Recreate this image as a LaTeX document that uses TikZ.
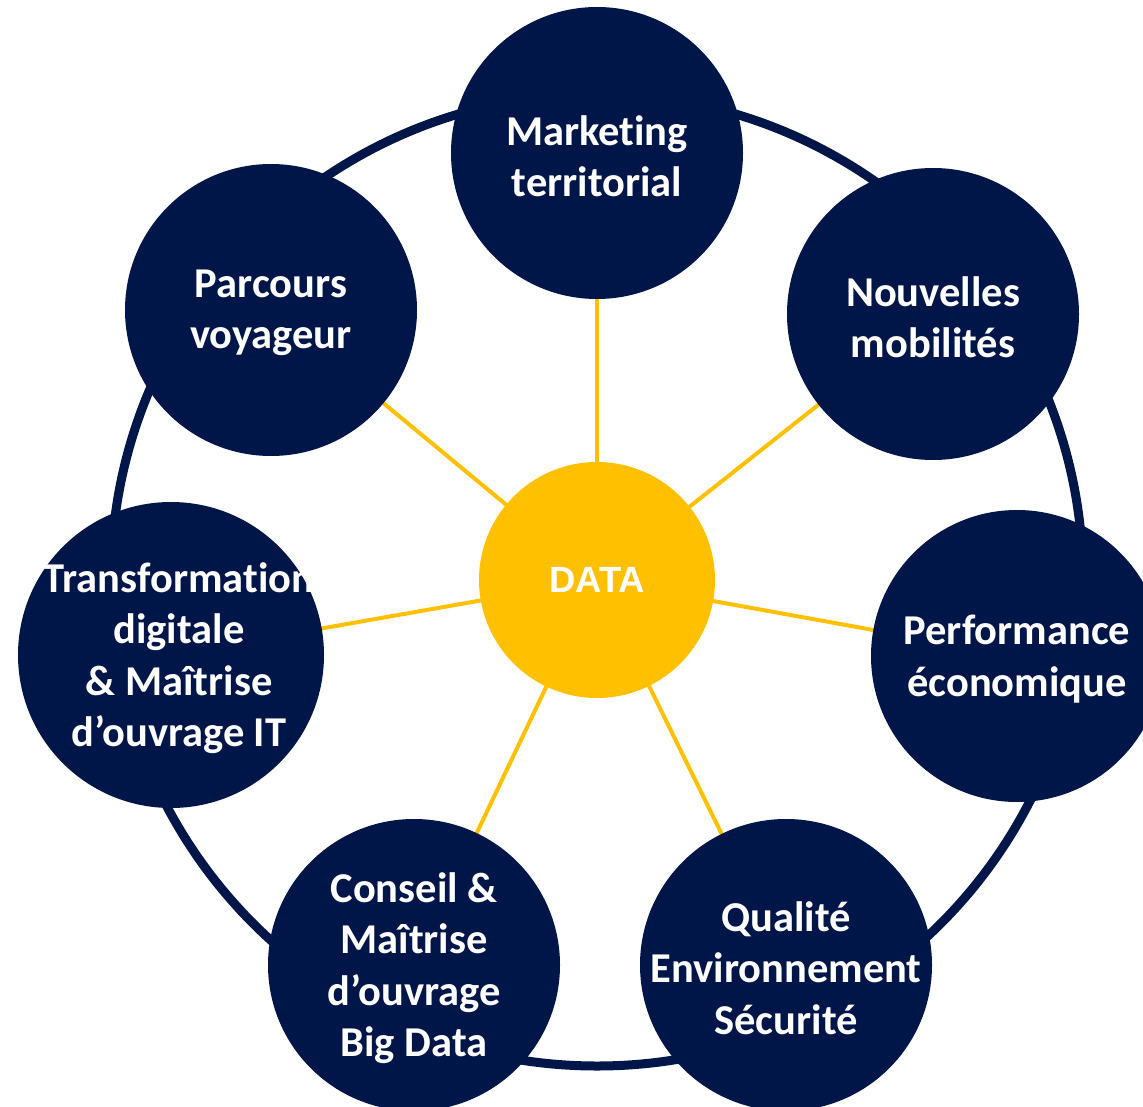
\documentclass[tikz,border=0pt]{standalone}
\usepackage{fontspec}
\setmainfont{Carlito}[Ligatures={NoCommon},RawFeature={-liga;-clig;-dlig;-calt}]
\newfontfamily\hubfont{Liberation Sans}
\usetikzlibrary{backgrounds}
\definecolor{navy}{RGB}{1,22,72}
\definecolor{gold}{RGB}{255,192,0}
\begin{document}
\begin{tikzpicture}[x=1pt,y=-1pt,
  ttext/.style={text=white, align=center, inner sep=0pt,
    font=\fontsize{42.5}{51.5}\selectfont\bfseries},
  topic/.style={circle, fill=navy, minimum size=292pt, inner sep=0pt,
    label={[ttext, yshift=-3pt]center:#1}},
  hub/.style={circle, fill=gold, text=white, minimum size=236pt, inner sep=0pt,
    font=\hubfont\bfseries\fontsize{36.5}{42}\selectfont},
  spoke/.style={draw=gold, line width=4pt},
  ringline/.style={draw=navy, line width=9pt}]
\useasboundingbox (0,0) rectangle (1143,1107);
\begin{scope}
\clip (0,0) rectangle (1143,1107);
\node[hub] (data) at (597,580) {DATA};
\node[topic={Marketing\\territorial}] (mk) at (597,153) {};
\node[topic={Nouvelles\\mobilités}] (nm) at (933,314) {};
\node[topic={Performance\\économique}] (pe) at (1017,656) {};
\node[topic={Qualité\\Environnement\\Sécurité}] (qe) at (786,965) {};
\node[topic={Conseil \&\\Maîtrise\\d’ouvrage\\Big Data}] (cm) at (414,965) {};
\node[circle, fill=navy, minimum size=306pt, inner sep=0pt,
  label={[ttext, yshift=-3pt, xshift=8pt]center:Transformation\\digitale\\\& Maîtrise\\d’ouvrage IT}] (td) at (171,655) {};
\node[topic={Parcours\\voyageur}] (pv) at (271,310) {};
\end{scope}
\begin{scope}[on background layer]
\draw[ringline] (data.center) circle[radius=486];
\foreach \t in {mk,nm,pe,qe,cm,td,pv}
  \draw[spoke] (data.center) -- (\t.center);
\end{scope}
\end{tikzpicture}
\end{document}
